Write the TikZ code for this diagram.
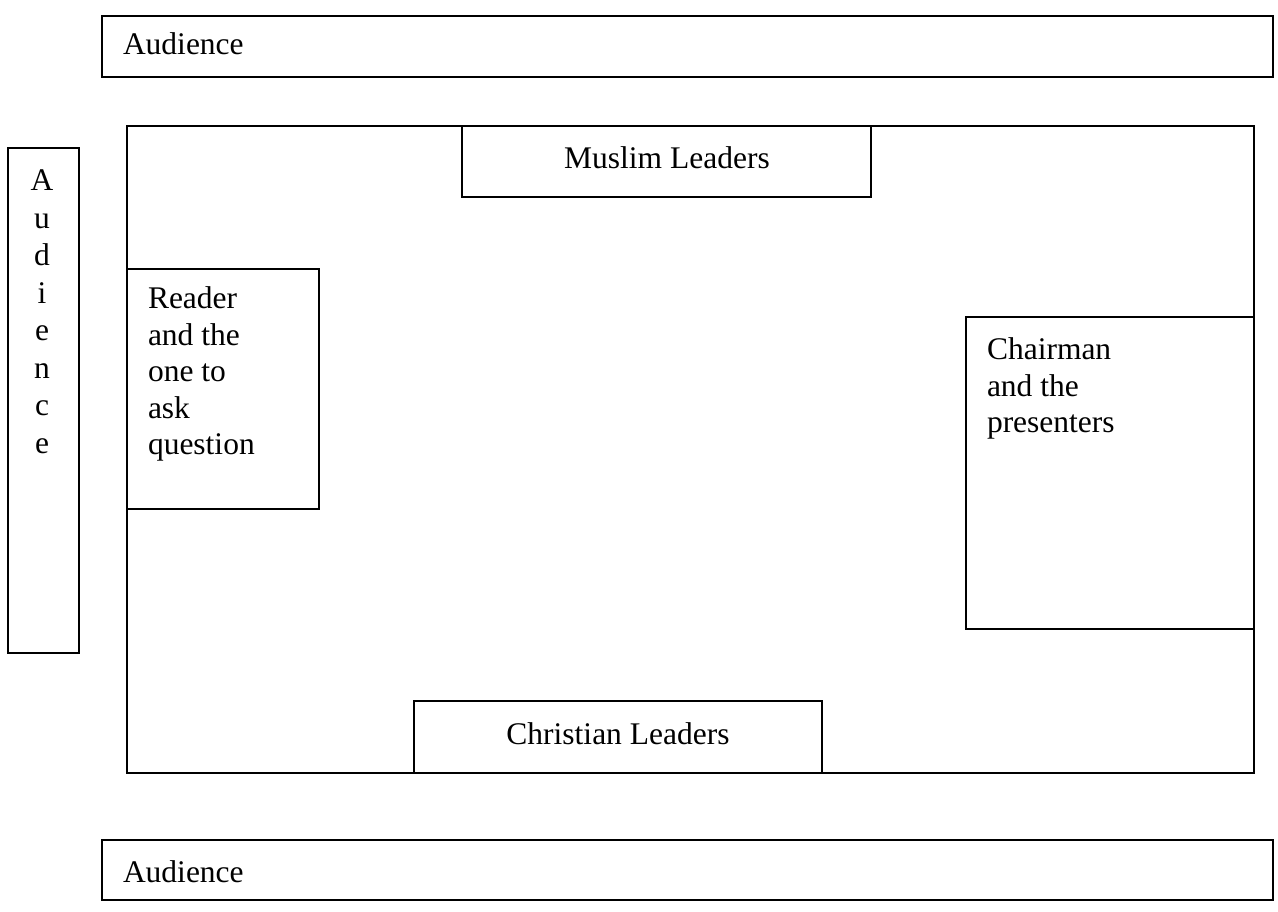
\documentclass[tikz,border=0pt]{standalone}
\usepackage{fontspec}
\setmainfont{Liberation Serif}
\begin{document}
\begin{tikzpicture}[x=1pt,y=-1pt,
  box/.style={draw=black, line width=1.5pt, inner sep=0pt, outer sep=0pt, anchor=north west},
  label/.style={inner sep=0pt, outer sep=0pt, font=\fontsize{31.5}{36.5}\selectfont},
  vlabel/.style={inner sep=0pt, outer sep=0pt, align=center, font=\fontsize{31.5}{37.5}\selectfont}]
\useasboundingbox (0,0) rectangle (1278,912);
% boxes
\node[box, minimum width=1171pt, minimum height=61pt] (topaud) at (102,16) {};
\node[box, minimum width=71pt, minimum height=505pt] (leftaud) at (8,148) {};
\node[box, minimum width=1127pt, minimum height=647pt] (hall) at (127,126) {};
\node[box, minimum width=409pt, minimum height=71pt] (muslim) at (462,126) {};
\node[box, minimum width=192pt, minimum height=240pt] (reader) at (127,269) {};
\node[box, minimum width=288pt, minimum height=312pt] (chair) at (966,317) {};
\node[box, minimum width=408pt, minimum height=72pt] (christian) at (414,701) {};
\node[box, minimum width=1171pt, minimum height=60pt] (botaud) at (102,840) {};
% texts
\node[label, anchor=base west] (topaudt) at (123,55) {Audience};
\node[label, anchor=base west] (botaudt) at (123,882) {Audience};
\node[label, anchor=base] (muslimt) at (667,169) {Muslim Leaders};
\node[label, anchor=base] (christiant) at (618,744) {Christian Leaders};
\node[label, align=left, anchor=north west] (readert) at (148,287) {Reader\\and the\\one to\\ask\\question};
\node[label, align=left, anchor=north west] (chairt) at (987,338) {Chairman\\and the\\presenters};
\node[vlabel, anchor=north] (leftaudt) at (42,170) {A\\u\\d\\i\\e\\n\\c\\e};
\end{tikzpicture}
\end{document}
